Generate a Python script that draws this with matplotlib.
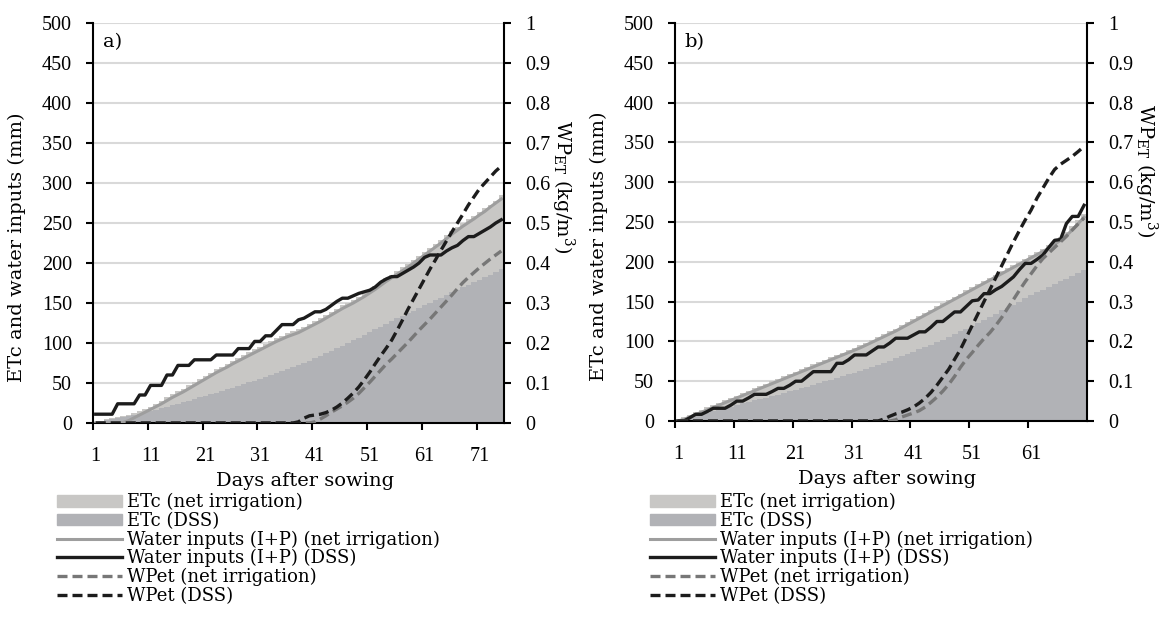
import numpy as np
import matplotlib.pyplot as plt
from matplotlib.patches import Patch
from matplotlib.lines import Line2D
from matplotlib.ticker import FuncFormatter

plt.rcParams['font.family'] = 'DejaVu Serif'
plt.rcParams['mathtext.fontset'] = 'dejavuserif'
plt.rcParams['font.size'] = 13.5
NUM_FONT = 'Liberation Serif'

# ---- panel a: 75 days after sowing ----
etc_net_a = [1.5, 3, 4.5, 6, 7, 8.5, 10.5, 12.5, 15, 17.5, 20.5, 24, 28, 32, 36,
             39.5, 43, 47, 51, 55, 59, 63, 67, 70.5, 74, 78, 81.5, 85, 88.5, 92,
             95.5, 99, 102.5, 106, 109, 112, 114.5, 117, 120.5, 124, 127.5, 131, 135, 139, 143,
             147, 150.5, 154, 158, 162, 166.5, 171, 176, 181, 185.5, 190, 194.5, 199, 204, 209,
             214, 219, 224, 229, 234.5, 240, 245, 250, 254.5, 259, 264, 268.5, 273, 278, 285]
etc_dss_a = [1, 2.2, 3.4, 4.6, 6, 7.4, 8.8, 10.3, 11.8, 13.4, 15, 16.8, 18.6, 20.4, 22.2,
             24, 26, 28, 30, 32, 34, 36, 38, 40, 42, 44.2, 46.4, 48.6, 50.8, 53,
             55.3, 57.6, 60, 62.4, 64.8, 67.2, 69.6, 72, 75, 78, 81, 84, 87, 90, 93.3,
             96.6, 100, 103.3, 106.6, 110, 113.5, 117, 120.5, 124, 127.5, 131, 134, 137, 140, 143.5,
             147, 150, 153.3, 156.6, 160, 163.3, 166.6, 170, 173, 176, 179, 182, 185, 188.5, 192]
inputs_net_a = [0, 0, 0, 0, 0, 0.5, 3, 6.5, 10, 13.5, 17, 20.5, 24, 28, 32,
                35.5, 39, 43, 47, 51, 55, 59, 63, 66.5, 70, 74, 77.5, 81, 84.5, 88,
                91.5, 95, 98.5, 102, 105, 108, 110.5, 113, 116.5, 120, 123.5, 127, 131, 135, 139,
                143, 146.5, 150, 154, 158, 162.5, 167, 172, 177, 181.5, 186, 190.5, 195, 200, 205,
                210, 215, 220, 225, 230.5, 236, 241, 246, 250.5, 255, 260, 264.5, 270, 275, 280]
inputs_dss_a = [11, 11, 11, 11, 24, 24, 24, 24, 35, 35, 47, 47, 47, 60, 60,
                72, 72, 72, 79, 79, 79, 79, 85, 85, 85, 85, 93, 93, 93, 102,
                102, 109, 109, 116, 123, 123, 123, 129, 131, 135, 139, 139, 142, 147, 152,
                156, 156, 159, 162, 164, 166, 170, 176, 180, 183, 183, 187, 191, 195, 200,
                207, 210, 210, 210, 215, 219, 222, 228, 233, 233, 237, 241, 245, 250, 254]
wp_net_a = [0] * 40 + [0.003, 0.01, 0.018, 0.027, 0.035, 0.043, 0.052, 0.062, 0.074, 0.088,
                       0.102, 0.117, 0.132, 0.147, 0.16, 0.174, 0.188, 0.202, 0.217, 0.232,
                       0.246, 0.26, 0.275, 0.29, 0.305, 0.32, 0.336, 0.351, 0.364, 0.376,
                       0.388, 0.399, 0.41, 0.42, 0.43]
wp_dss_a = [0] * 37 + [0.003, 0.012, 0.018, 0.02, 0.022, 0.026, 0.032, 0.04, 0.05, 0.062,
                       0.075, 0.09, 0.108, 0.127, 0.148, 0.168, 0.187, 0.207, 0.232, 0.258,
                       0.285, 0.31, 0.335, 0.36, 0.385, 0.408, 0.432, 0.455, 0.478, 0.5,
                       0.522, 0.545, 0.565, 0.585, 0.6, 0.615, 0.63, 0.642]

# ---- panel b: 70 days after sowing ----
etc_net_b = [2, 5, 8, 11, 14, 17, 20, 23, 26, 29, 32, 35, 38, 41, 44,
             47, 50, 53, 56, 59, 62, 65, 68, 71, 74, 77, 80, 83, 86, 89,
             92, 95, 98.5, 102, 105.5, 109, 112.5, 116, 120, 124, 128, 132, 136, 140, 144,
             148, 152, 156, 160, 164, 168, 172, 176, 180, 184, 188, 192, 196, 200, 204,
             208, 212, 216, 221, 226, 231, 238, 245, 252, 260]
etc_dss_b = [1, 2.8, 4.6, 6.4, 8.2, 10, 12, 14, 16, 18, 20, 22, 24, 25.8, 27.6,
             29.4, 31.2, 33.2, 35.2, 37.2, 39.2, 41.2, 43.2, 45.4, 47.6, 49.8, 52, 54.2, 56.4, 58.6,
             60.8, 63, 65.4, 67.8, 70.2, 73, 75.8, 78.6, 81.4, 84.2, 87, 90, 93, 96, 99,
             102, 105.5, 109, 112.5, 116, 119.5, 123, 127, 131, 135, 139, 142.5, 146, 150, 154,
             158, 161.5, 165, 168.5, 172, 175.5, 179, 182.5, 186, 190]
inputs_net_b = [0, 2, 5, 8, 11, 14, 17, 20, 23, 26, 29, 32, 35, 38, 41,
                44, 47, 50, 53, 56, 59, 62, 65, 68, 71, 74, 77, 80, 83, 86,
                89, 92, 95.5, 99, 102.5, 106, 109.5, 113, 117, 121, 125, 129, 133, 137, 141,
                145, 149, 153, 157, 161, 165, 169, 173, 177, 181, 185, 189, 193, 197, 201,
                205, 209, 213, 217, 222, 227, 233, 240, 248, 256]
inputs_dss_b = [0, 0, 4, 8.4, 8.4, 12, 16, 16, 16, 20, 25, 25, 29, 33.5, 33.5,
                33.5, 37, 41, 41, 45, 50, 50, 56, 62, 62, 62, 62, 72.5, 72.5, 77,
                83, 83, 83, 88, 93, 93, 98, 104, 104, 104, 108, 112, 112, 118, 125,
                125, 131, 137, 137, 144, 151, 152, 160, 160, 165, 169, 175, 181, 190, 198,
                198, 203, 208.5, 218, 227, 228, 248, 257, 257, 271]
wp_net_b = [0] * 37 + [0.003, 0.01, 0.015, 0.02, 0.026, 0.035, 0.047, 0.06, 0.075, 0.092,
                       0.112, 0.135, 0.155, 0.172, 0.19, 0.207, 0.222, 0.24, 0.26, 0.283,
                       0.305, 0.328, 0.35, 0.37, 0.39, 0.408, 0.422, 0.436, 0.45, 0.464,
                       0.48, 0.495, 0.51]
wp_dss_b = [0] * 35 + [0.005, 0.012, 0.018, 0.022, 0.028, 0.035, 0.045, 0.057, 0.072, 0.09,
                       0.11, 0.13, 0.155, 0.18, 0.21, 0.24, 0.27, 0.3, 0.33, 0.36,
                       0.39, 0.42, 0.45, 0.478, 0.505, 0.53, 0.56, 0.585, 0.61, 0.632,
                       0.645, 0.655, 0.665, 0.677, 0.69]

labels = ['ETc (net irrigation)', 'ETc (DSS)',
          'Water inputs (I+P) (net irrigation)', 'Water inputs (I+P) (DSS)',
          'WPet (net irrigation)', 'WPet (DSS)']

LIGHT = '#c8c7c5'
DARK = '#b1b2b6'
GREY_LINE = '#9e9e9e'
GREY_DASH = '#777777'
BLACK = '#1c1c1c'
DASH = (3.0, 1.5)

fig = plt.figure(figsize=(11.59, 6.37), dpi=100)


def wp_fmt(v, pos):
    return '0' if v == 0 else f'{v:.1f}'.rstrip('0').rstrip('.')


def panel(rect, tag, etc_net, etc_dss, inp_net, inp_dss, wp_net, wp_dss, leg_xy, wp_label_y):
    ax = fig.add_axes(rect)
    n = len(etc_net)
    x = np.arange(n)
    ax.bar(x, etc_net, width=1.0, color=LIGHT, linewidth=0, antialiased=False, zorder=2)
    ax.bar(x, etc_dss, width=1.0, color=DARK, linewidth=0, antialiased=False, zorder=2)
    ax.plot(x, inp_net, color=GREY_LINE, lw=2.2, zorder=3)
    ax.plot(x, inp_dss, color=BLACK, lw=2.4, zorder=4)

    ax.set_xlim(-0.5, n - 0.5)
    ax.set_ylim(0, 500)
    ax.set_yticks(np.arange(0, 501, 50))
    ax.grid(axis='y', color='#d9d9d9', lw=1.5)
    ax.set_axisbelow(True)

    # category labels centred on days, tick marks on the boundaries
    ax.set_xticks(x[::10])
    ax.set_xticklabels([str(d + 1) for d in x[::10]])
    ax.set_xticks(np.arange(-0.5, n - 1, 10), minor=True)
    ax.tick_params(axis='x', which='major', length=0, pad=17,
                   labelsize=14.5, labelfontfamily=NUM_FONT)
    ax.tick_params(axis='x', which='minor', length=5, width=1.5, direction='out')
    ax.tick_params(axis='y', length=5, width=1.5, direction='out', pad=10,
                   labelsize=14.5, labelfontfamily=NUM_FONT)
    for s in ('top', 'right'):
        ax.spines[s].set_visible(False)
    for s in ('left', 'bottom'):
        ax.spines[s].set_linewidth(1.5)

    ax.set_ylabel('ETc and water inputs (mm)', fontsize=14)
    ax.yaxis.set_label_coords(-0.162, 0.44)
    ax.set_xlabel('Days after sowing', fontsize=14)
    ax.xaxis.set_label_coords(0.515, -0.122)
    ax.text(0.024, 0.952, tag, transform=ax.transAxes, va='center', ha='left', fontsize=14)

    ax2 = ax.twinx()
    ax2.plot(x, wp_net, color=GREY_DASH, lw=2.4, dashes=DASH)
    ax2.plot(x, wp_dss, color=BLACK, lw=2.4, dashes=DASH)
    ax2.set_ylim(0, 1)
    ax2.set_yticks(np.arange(0, 1.01, 0.1))
    ax2.yaxis.set_major_formatter(FuncFormatter(wp_fmt))
    ax2.tick_params(axis='y', length=5, width=1.5, direction='out', pad=10,
                    labelsize=14.5, labelfontfamily=NUM_FONT)
    for s in ('top', 'left', 'bottom'):
        ax2.spines[s].set_visible(False)
    ax2.spines['right'].set_linewidth(1.5)
    ax2.set_ylabel(r'WP$_{\mathregular{ET}}$ (kg/m$^{\mathregular{3}}$)',
                   rotation=270, va='center', fontsize=14)
    ax2.yaxis.set_label_coords(1.143, wp_label_y)

    handles = [Patch(color=LIGHT), Patch(color=DARK),
               Line2D([], [], color=GREY_LINE, lw=2.2),
               Line2D([], [], color=BLACK, lw=2.4),
               Line2D([], [], color=GREY_DASH, lw=2.4, dashes=DASH),
               Line2D([], [], color=BLACK, lw=2.4, dashes=DASH)]
    fig.legend(handles, labels, loc='upper left', bbox_to_anchor=leg_xy,
               frameon=False, fontsize=13, handlelength=3.6, handleheight=0.6,
               handletextpad=0.3, labelspacing=0.03, borderpad=0, borderaxespad=0)


panel([93 / 1159, 1 - 423 / 637, 411 / 1159, 400 / 637], 'a)',
      etc_net_a, etc_dss_a, inputs_net_a, inputs_dss_a, wp_net_a, wp_dss_a,
      (57 / 1159, 1 - 493 / 637), 0.59)
panel([675 / 1159, 1 - 421 / 637, 412 / 1159, 398 / 637], 'b)',
      etc_net_b, etc_dss_b, inputs_net_b, inputs_dss_b, wp_net_b, wp_dss_b,
      (650 / 1159, 1 - 493 / 637), 0.63)

fig.savefig('out.png', dpi=100)
